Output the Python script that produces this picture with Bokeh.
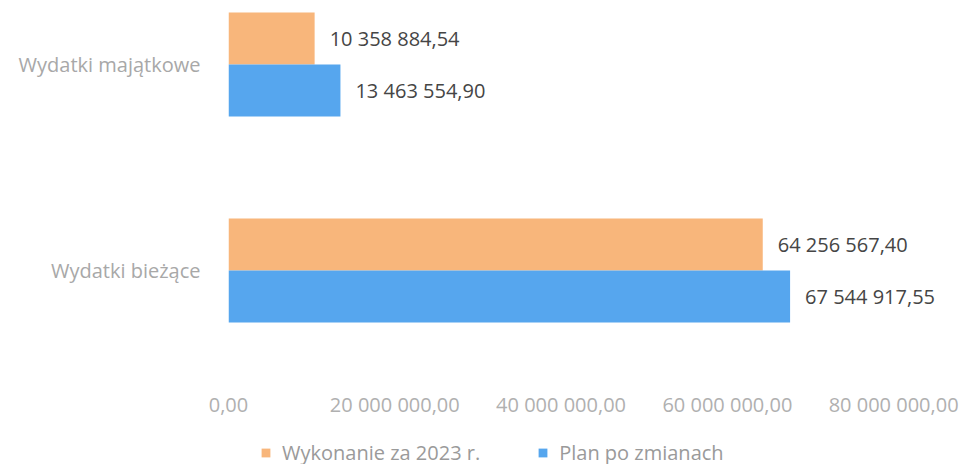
from bokeh.plotting import figure
from bokeh.models import (ColumnDataSource, Range1d, FixedTicker, Legend, LegendItem, LabelSet)
from bokeh.core.properties import value
from bokeh.transform import dodge
from bokeh.embed import file_html
from bokeh.resources import INLINE

categories = ["Wydatki bieżące", "Wydatki majątkowe"]
wykonanie = [64256567.40, 10358884.54]
plan = [67544917.55, 13463554.90]
series_names = ["Wykonanie za 2023 r.", "Plan po zmianach"]
x_ticks = [0, 20000000, 40000000, 60000000, 80000000]

ORANGE = "#F8B67B"
BLUE = "#56A6EE"
FONT = "Open Sans"
FS = "20px"


def fmt(v):
    s = f"{v:,.2f}"
    return s.replace(",", " ").replace(".", ",")


pos = list(range(len(categories)))
src = ColumnDataSource(dict(
    y=pos,
    wyk=wykonanie,
    plan=plan,
    wyk_lbl=[fmt(v) for v in wykonanie],
    plan_lbl=[fmt(v) for v in plan],
))

p = figure(frame_width=730, frame_height=464,
           output_backend="svg", toolbar_location=None,
           x_range=Range1d(0, 87800000), y_range=Range1d(-0.9417, 1.3107),
           min_border_left=228, min_border_right=5, min_border_top=0,
           min_border_bottom=0)
p.outline_line_color = None
p.grid.visible = False
p.background_fill_color = "white"

h = 0.252
r1 = p.hbar(y=dodge("y", 0.126, range=p.y_range), right="wyk", left=0, height=h,
            source=src, fill_color=ORANGE, line_color=None)
r2 = p.hbar(y=dodge("y", -0.126, range=p.y_range), right="plan", left=0, height=h,
            source=src, fill_color=BLUE, line_color=None)

for col, lbl, off in (("wyk", "wyk_lbl", 0.126), ("plan", "plan_lbl", -0.126)):
    ls = LabelSet(x=col, y=dodge("y", off, range=p.y_range), text=lbl, source=src,
                  x_offset=15, text_baseline="middle", text_font=value(FONT),
                  text_font_size=value(FS), text_color="#454545")
    p.add_layout(ls)

# y axis
p.yaxis.ticker = FixedTicker(ticks=pos)
p.yaxis.major_label_overrides = {i: c for i, c in zip(pos, categories)}
p.yaxis.axis_line_color = None
p.yaxis.major_tick_line_color = None
p.yaxis.minor_tick_line_color = None
p.yaxis.major_label_standoff = 22
p.yaxis.major_label_text_font = FONT
p.yaxis.major_label_text_font_size = FS
p.yaxis.major_label_text_color = "#A8A8A8"

# x axis (labels drawn up into the area above the legend)
p.xaxis.ticker = FixedTicker(ticks=x_ticks)
p.xaxis.major_label_overrides = {t: fmt(t) for t in x_ticks}
p.xaxis.axis_line_color = None
p.xaxis.major_tick_line_color = None
p.xaxis.minor_tick_line_color = None
p.xaxis.major_tick_out = 0
p.xaxis.major_tick_in = 0
p.xaxis.major_label_standoff = -74
p.xaxis.major_label_text_font = FONT
p.xaxis.major_label_text_font_size = FS
p.xaxis.major_label_text_color = "#B0B0B0"

legend = Legend(items=[LegendItem(label=series_names[0], renderers=[r1]),
                       LegendItem(label=series_names[1], renderers=[r2])],
                orientation="horizontal", location=(32, -2),
                padding=0, margin=0, spacing=57, label_standoff=11,
                glyph_width=11, glyph_height=11,
                label_text_font=FONT, label_text_font_size=FS,
                label_text_color="#9A9A9A", border_line_color=None,
                background_fill_alpha=0)
p.add_layout(legend, "center")

open("out.html", "w").write(file_html(p, INLINE))
